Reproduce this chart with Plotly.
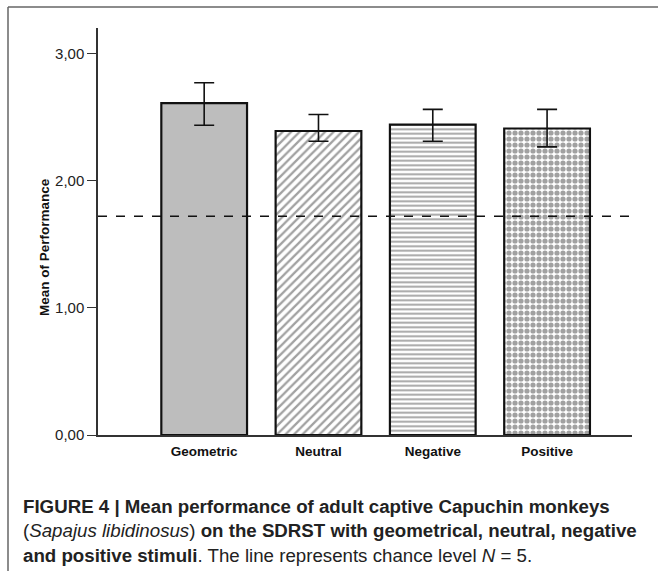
import plotly.graph_objects as go

categories = ["Geometric", "Neutral", "Negative", "Positive"]
means = [2.61, 2.39, 2.44, 2.41]
err_plus = [0.16, 0.13, 0.12, 0.15]
err_minus = [0.175, 0.08, 0.13, 0.145]
chance_level = 1.72
y_ticks = [0, 1, 2, 3]
y_tick_labels = ["0,00", "1,00", "2,00", "3,00"]

W, H = 658, 571
L, R, T, B = 98, 26, 28, 136
pw, ph = W - L - R, H - T - B

def px_x(x):
    return (x - L) / pw

def px_y(y):
    return (H - B - y) / ph

shapes_ = ["", "/", "-", "."]
fills = ["#bdbdbd", "#ffffff", "#ffffff", "#ffffff"]

fig = go.Figure()
fig.add_trace(go.Bar(
    x=categories, y=means, width=0.75,
    marker=dict(
        color=fills,
        line=dict(color="#111111", width=2.2),
        pattern=dict(shape=shapes_, fgcolor="#777777", bgcolor="#ffffff",
                     size=[6, 6, 4.5, 6], solidity=[0.3, 0.38, 0.42, 0.6],
                     fillmode="overlay"),
    ),
    error_y=dict(type="data", symmetric=False, array=err_plus, arrayminus=err_minus,
                 color="#111111", thickness=1.6, width=10),
    showlegend=False,
))

fig.add_shape(type="line", xref="paper", yref="y", x0=0, x1=1, y0=chance_level, y1=chance_level,
              line=dict(color="#111111", width=1.5, dash="dash"), layer="above")

# outer frame (top and left visible)
fig.add_shape(type="line", xref="paper", yref="paper", x0=px_x(8), x1=px_x(720), y0=px_y(7), y1=px_y(7),
              line=dict(color="#666666", width=1.5))
fig.add_shape(type="line", xref="paper", yref="paper", x0=px_x(8), x1=px_x(8), y0=px_y(7), y1=px_y(620),
              line=dict(color="#666666", width=1.5))

# y-axis title
fig.add_annotation(text="<b>Mean of Performance</b>", xref="paper", yref="paper",
                   x=px_x(45), y=px_y(247), textangle=-90, showarrow=False,
                   xanchor="center", yanchor="middle",
                   font=dict(size=13.5, color="#111111"))

cap_font = dict(family="Liberation Sans, Arial, sans-serif", size=18.7, color="#222222")
lines = [
    "<b>FIGURE 4 | Mean performance of adult captive Capuchin monkeys</b>",
    "(<i>Sapajus libidinosus</i>)<b> on the SDRST with geometrical, neutral, negative</b>",
    "<b>and positive stimuli</b>. The line represents chance level <i>N</i> = 5.",
]
ys = [506, 530, 555]
for t, yy in zip(lines, ys):
    fig.add_annotation(text=t, xref="paper", yref="paper", x=px_x(21), y=px_y(yy),
                       xanchor="left", yanchor="middle", showarrow=False, font=cap_font, align="left")

fig.update_layout(
    width=W, height=H,
    margin=dict(l=L, r=R, t=T, b=B, pad=0),
    paper_bgcolor="white", plot_bgcolor="white",
    font=dict(family="Liberation Sans, Arial, sans-serif", color="#222222"),
)
fig.update_xaxes(range=[-0.929, 3.743], showline=True, linecolor="#333333", linewidth=1.5,
                 ticks="", showgrid=False, zeroline=False,
                 tickfont=dict(size=13.5, color="#111111"),
                 ticklabelstandoff=3,
                 tickvals=categories, ticktext=["<b>" + c + "</b>" for c in categories])
fig.update_yaxes(range=[0, 3.2], showline=True, linecolor="#333333", linewidth=1.5,
                 ticks="outside", ticklen=9, tickcolor="#333333", tickwidth=1.2,
                 tickvals=y_ticks, ticktext=y_tick_labels, showgrid=False, zeroline=False,
                 tickfont=dict(size=15, color="#222222"))

fig.write_html("out.html", config={"displayModeBar": False},
               post_script="document.body.style.margin='0';document.body.style.overflow='hidden';")
